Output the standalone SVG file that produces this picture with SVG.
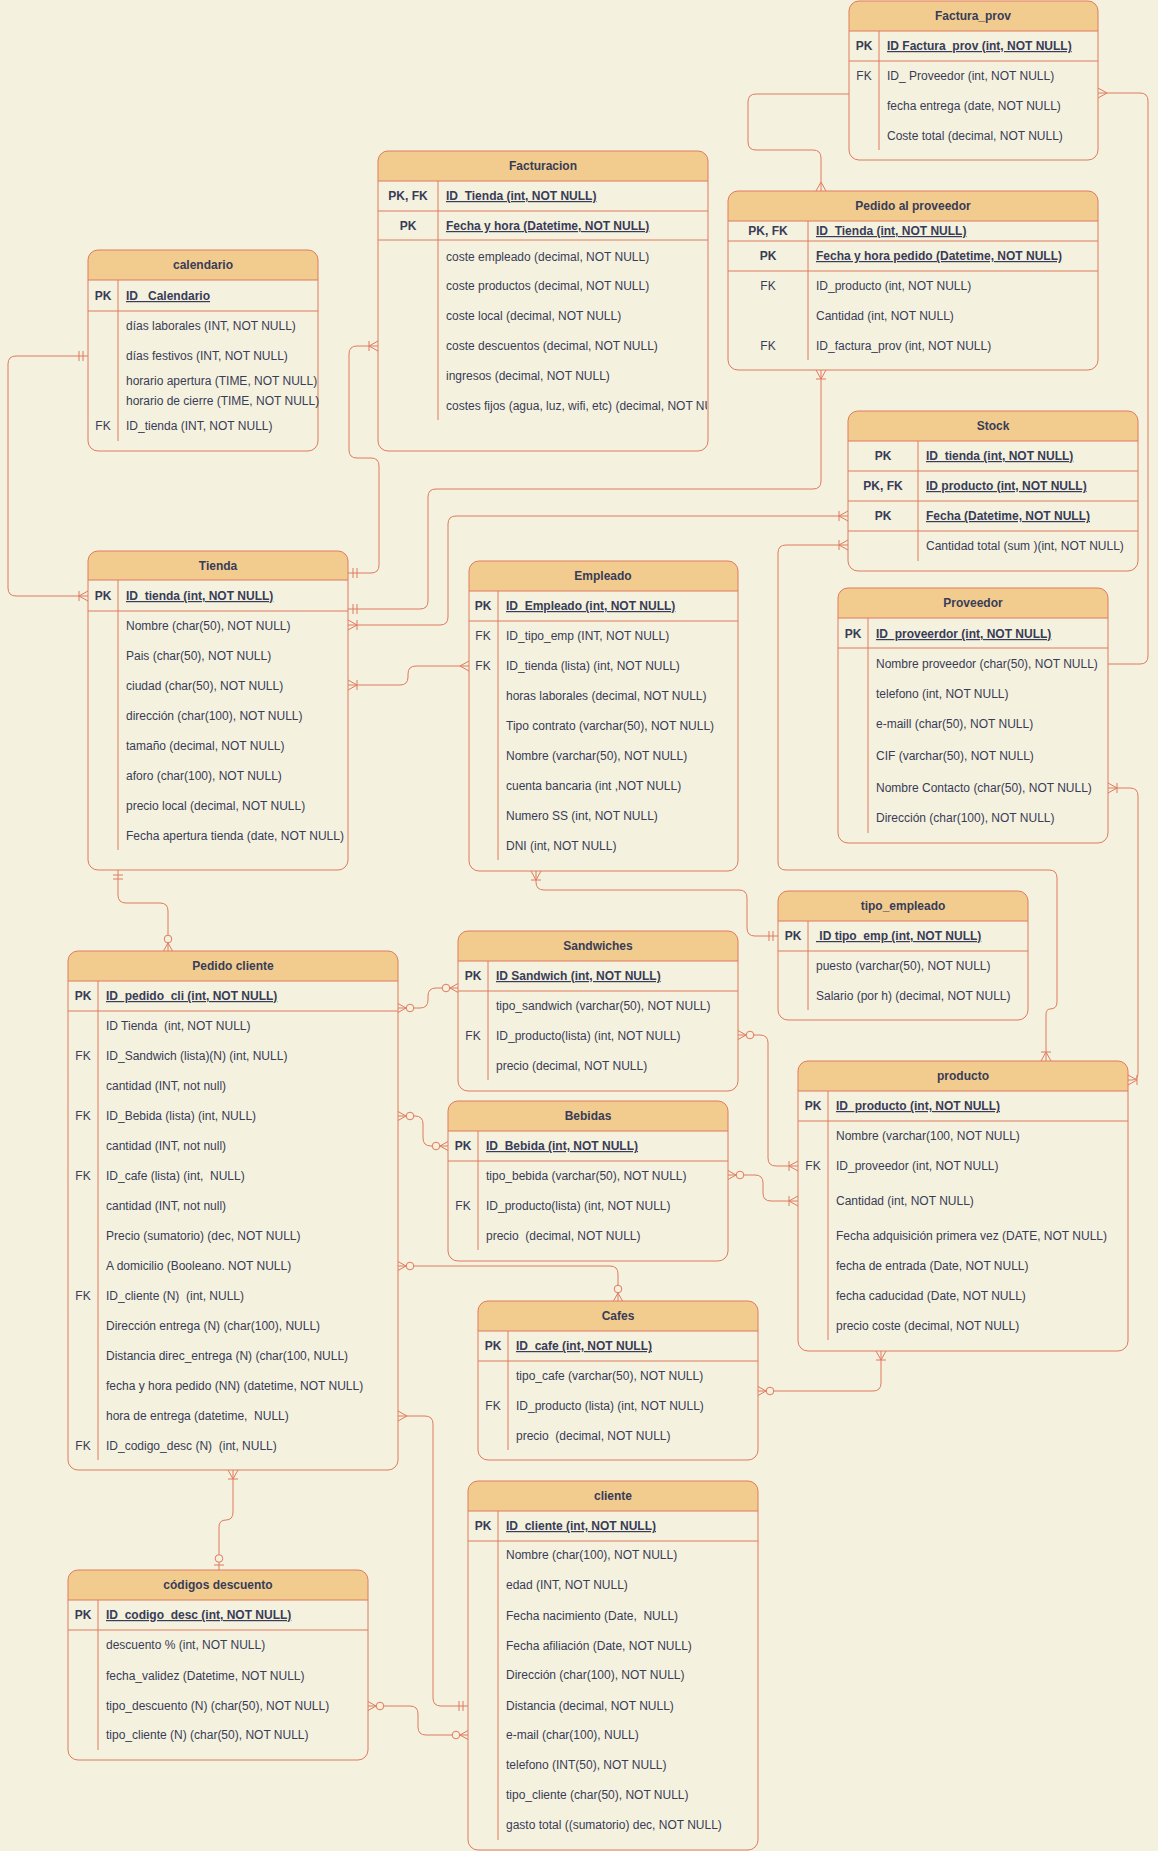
<svg xmlns="http://www.w3.org/2000/svg" width="1158" height="1851" viewBox="0 0 1158 1851" xml:space="preserve">
<style>
.bg{fill:#F4F1DE;stroke:none}
.fr{fill:none;stroke:#E07A5F;stroke-width:1}
.hd{fill:#F2CC8F;stroke:none}
.ln{fill:none;stroke:#E07A5F;stroke-width:1}
.cn{fill:none;stroke:#E07A5F;stroke-width:1}
.mk{fill:none;stroke:#E07A5F;stroke-width:1}
.mc{fill:#F4F1DE;stroke:#E07A5F;stroke-width:1}
text{font-family:"Liberation Sans",Arial,Helvetica,sans-serif;font-size:12px;fill:#393C56;white-space:pre}
.ti{font-weight:bold;text-anchor:middle}
.k{text-anchor:middle}
.kb{text-anchor:middle;font-weight:bold}
.pk{font-weight:bold;text-decoration:underline}
</style>
<defs>
<marker id="many" markerUnits="userSpaceOnUse" markerWidth="30" markerHeight="30" viewBox="-20 -15 30 30" refX="0" refY="0" orient="auto-start-reverse" overflow="visible"><path class="mk" d="M-9 0L0 -5M-9 0L0 5"/></marker>
<marker id="oneMany" markerUnits="userSpaceOnUse" markerWidth="30" markerHeight="30" viewBox="-20 -15 30 30" refX="0" refY="0" orient="auto-start-reverse" overflow="visible"><path class="mk" d="M-9 0L0 -5M-9 0L0 5M-9 -5V5"/></marker>
<marker id="zeroMany" markerUnits="userSpaceOnUse" markerWidth="30" markerHeight="30" viewBox="-20 -15 30 30" refX="0" refY="0" orient="auto-start-reverse" overflow="visible"><path class="mk" d="M-8 0L0 -4.5M-8 0L0 4.5"/><circle class="mc" cx="-12" cy="0" r="3.8"/></marker>
<marker id="mandOne" markerUnits="userSpaceOnUse" markerWidth="30" markerHeight="30" viewBox="-20 -15 30 30" refX="0" refY="0" orient="auto-start-reverse" overflow="visible"><path class="mk" d="M-5 -5V5M-9 -5V5"/></marker>
<marker id="zeroOne" markerUnits="userSpaceOnUse" markerWidth="30" markerHeight="30" viewBox="-20 -15 30 30" refX="0" refY="0" orient="auto-start-reverse" overflow="visible"><path class="mk" d="M-5 -5V5"/><circle class="mc" cx="-11.5" cy="0" r="3.8"/></marker>
<clipPath id="clipFact"><rect x="378" y="151" width="329" height="300"/></clipPath>
</defs>
<rect x="0" y="0" width="1158" height="1851" fill="#F4F1DE"/>

<g id="connectors">
<path class="cn" d="M849 94H756Q748 94 748 102V142Q748 150 756 150H813Q821 150 821 158V191" marker-end="url(#many)"/>
<path class="cn" d="M1108 664H1140Q1148 664 1148 656V101Q1148 93 1140 93H1098" marker-end="url(#many)"/>
<path class="cn" d="M348 609H420Q428 609 428 601V497Q428 489 436 489H813Q821 489 821 481V370" marker-start="url(#mandOne)" marker-end="url(#oneMany)"/>
<path class="cn" d="M348 573H371Q379 573 379 565V466Q379 458 371 458H357Q349 458 349 450V354Q349 346 357 346H378" marker-start="url(#mandOne)" marker-end="url(#oneMany)"/>
<path class="cn" d="M348 625H440Q448 625 448 617V524Q448 516 456 516H848" marker-start="url(#oneMany)" marker-end="url(#oneMany)"/>
<path class="cn" d="M348 685H400Q408 685 408 677V674Q408 666 416 666H469" marker-start="url(#oneMany)" marker-end="url(#many)"/>
<path class="cn" d="M88 356H16Q8 356 8 364V588Q8 596 16 596H88" marker-start="url(#mandOne)" marker-end="url(#oneMany)"/>
<path class="cn" d="M118 870V895Q118 903 126 903H160Q168 903 168 911V951" marker-start="url(#mandOne)" marker-end="url(#zeroMany)"/>
<path class="cn" d="M536 871V882Q536 890 544 890H739Q747 890 747 898V928Q747 936 755 936H778" marker-start="url(#oneMany)" marker-end="url(#mandOne)"/>
<path class="cn" d="M848 545H786Q778 545 778 553V862Q778 870 786 870H1049Q1057 870 1057 878V1002Q1057 1009 1050 1009Q1046 1009 1046 1015V1061" marker-start="url(#oneMany)" marker-end="url(#oneMany)"/>
<path class="cn" d="M1108 788H1130Q1138 788 1138 796V1073Q1138 1080 1132 1080H1128" marker-start="url(#oneMany)" marker-end="url(#oneMany)"/>
<path class="cn" d="M398 1008H420Q428 1008 428 1000V996Q428 988 436 988H458" marker-start="url(#zeroMany)" marker-end="url(#zeroMany)"/>
<path class="cn" d="M398 1116H415Q423 1116 423 1124V1138Q423 1146 431 1146H448" marker-start="url(#zeroMany)" marker-end="url(#zeroMany)"/>
<path class="cn" d="M398 1266H610Q618 1266 618 1274V1301" marker-start="url(#zeroMany)" marker-end="url(#zeroMany)"/>
<path class="cn" d="M738 1035H760Q768 1035 768 1043V1158Q768 1166 776 1166H798" marker-start="url(#zeroMany)" marker-end="url(#oneMany)"/>
<path class="cn" d="M728 1175H755Q763 1175 763 1183V1193Q763 1201 771 1201H798" marker-start="url(#zeroMany)" marker-end="url(#oneMany)"/>
<path class="cn" d="M758 1391H873Q881 1391 881 1383V1351" marker-start="url(#zeroMany)" marker-end="url(#oneMany)"/>
<path class="cn" d="M233 1470V1512Q233 1520 226 1520Q219 1520 219 1527V1570" marker-start="url(#oneMany)" marker-end="url(#zeroOne)"/>
<path class="cn" d="M398 1416H425Q433 1416 433 1424V1698Q433 1706 441 1706H468" marker-start="url(#many)" marker-end="url(#mandOne)"/>
<path class="cn" d="M368 1706H410Q418 1706 418 1714V1727Q418 1735 426 1735H468" marker-start="url(#zeroMany)" marker-end="url(#zeroMany)"/>
</g>

<g id="factura_prov">
<rect class="bg" x="849" y="1" width="249" height="159" rx="10"/>
<path class="hd" d="M849 31V11A10 10 0 0 1 859 1H1088A10 10 0 0 1 1098 11V31Z"/>
<rect class="fr" x="849" y="1" width="249" height="159" rx="10"/>
<path class="ln" d="M849 31H1098M849 61H1098M879 31V150"/>
<text class="ti" x="973" y="20">Factura_prov</text>
<text class="kb" x="864" y="50">PK</text><text class="pk" x="887" y="50">ID Factura_prov (int, NOT NULL)</text>
<text class="k" x="864" y="80">FK</text><text x="887" y="80">ID_ Proveedor (int, NOT NULL)</text>
<text x="887" y="110">fecha entrega (date, NOT NULL)</text>
<text x="887" y="140">Coste total (decimal, NOT NULL)</text>
</g>

<g id="pedido_proveedor">
<rect class="bg" x="728" y="191" width="370" height="179" rx="10"/>
<path class="hd" d="M728 221V201A10 10 0 0 1 738 191H1088A10 10 0 0 1 1098 201V221Z"/>
<rect class="fr" x="728" y="191" width="370" height="179" rx="10"/>
<path class="ln" d="M728 221H1098M728 241H1098M728 271H1098M808 221V360"/>
<text class="ti" x="913" y="210">Pedido al proveedor</text>
<text class="kb" x="768" y="235">PK, FK</text><text class="pk" x="816" y="235">ID_Tienda (int, NOT NULL)</text>
<text class="kb" x="768" y="260">PK</text><text class="pk" x="816" y="260">Fecha y hora pedido (Datetime, NOT NULL)</text>
<text class="k" x="768" y="290">FK</text><text x="816" y="290">ID_producto (int, NOT NULL)</text>
<text x="816" y="320">Cantidad (int, NOT NULL)</text>
<text class="k" x="768" y="350">FK</text><text x="816" y="350">ID_factura_prov (int, NOT NULL)</text>
</g>

<g id="facturacion">
<rect class="bg" x="378" y="151" width="330" height="300" rx="10"/>
<path class="hd" d="M378 181V161A10 10 0 0 1 388 151H698A10 10 0 0 1 708 161V181Z"/>
<rect class="fr" x="378" y="151" width="330" height="300" rx="10"/>
<path class="ln" d="M378 181H708M378 211H708M378 240H708M438 181V420"/>
<text class="ti" x="543" y="170">Facturacion</text>
<text class="kb" x="408" y="200">PK, FK</text><text class="pk" x="446" y="200">ID_Tienda (int, NOT NULL)</text>
<text class="kb" x="408" y="230">PK</text><text class="pk" x="446" y="230">Fecha y hora (Datetime, NOT NULL)</text>
<text x="446" y="261">coste empleado (decimal, NOT NULL)</text>
<text x="446" y="290">coste productos (decimal, NOT NULL)</text>
<text x="446" y="320">coste local (decimal, NOT NULL)</text>
<text x="446" y="350">coste descuentos (decimal, NOT NULL)</text>
<text x="446" y="380">ingresos (decimal, NOT NULL)</text>
<text x="446" y="410" clip-path="url(#clipFact)">costes fijos (agua, luz, wifi, etc) (decimal, NOT NULL)</text>
</g>

<g id="calendario">
<rect class="bg" x="88" y="250" width="230" height="201" rx="10"/>
<path class="hd" d="M88 280V260A10 10 0 0 1 98 250H308A10 10 0 0 1 318 260V280Z"/>
<rect class="fr" x="88" y="250" width="230" height="201" rx="10"/>
<path class="ln" d="M88 280H318M88 311H318M118 280V441"/>
<text class="ti" x="203" y="269">calendario</text>
<text class="kb" x="103" y="300">PK</text><text class="pk" x="126" y="300">ID_ Calendario</text>
<text x="126" y="330">días laborales (INT, NOT NULL)</text>
<text x="126" y="360">días festivos (INT, NOT NULL)</text>
<text x="126" y="385">horario apertura (TIME, NOT NULL)</text>
<text x="126" y="405">horario de cierre (TIME, NOT NULL)</text>
<text class="k" x="103" y="430">FK</text><text x="126" y="430">ID_tienda (INT, NOT NULL)</text>
</g>

<g id="stock">
<rect class="bg" x="848" y="411" width="290" height="160" rx="10"/>
<path class="hd" d="M848 441V421A10 10 0 0 1 858 411H1128A10 10 0 0 1 1138 421V441Z"/>
<rect class="fr" x="848" y="411" width="290" height="160" rx="10"/>
<path class="ln" d="M848 441H1138M848 471H1138M848 501H1138M848 531H1138M918 441V561"/>
<text class="ti" x="993" y="430">Stock</text>
<text class="kb" x="883" y="460">PK</text><text class="pk" x="926" y="460">ID_tienda (int, NOT NULL)</text>
<text class="kb" x="883" y="490">PK, FK</text><text class="pk" x="926" y="490">ID producto (int, NOT NULL)</text>
<text class="kb" x="883" y="520">PK</text><text class="pk" x="926" y="520">Fecha (Datetime, NOT NULL)</text>
<text x="926" y="550">Cantidad total (sum )(int, NOT NULL)</text>
</g>

<g id="proveedor">
<rect class="bg" x="838" y="588" width="270" height="255" rx="10"/>
<path class="hd" d="M838 618V598A10 10 0 0 1 848 588H1098A10 10 0 0 1 1108 598V618Z"/>
<rect class="fr" x="838" y="588" width="270" height="255" rx="10"/>
<path class="ln" d="M838 618H1108M838 648H1108M868 618V833"/>
<text class="ti" x="973" y="607">Proveedor</text>
<text class="kb" x="853" y="638">PK</text><text class="pk" x="876" y="638">ID_proveerdor (int, NOT NULL)</text>
<text x="876" y="668">Nombre proveedor (char(50), NOT NULL)</text>
<text x="876" y="698">telefono (int, NOT NULL)</text>
<text x="876" y="728">e-maill (char(50), NOT NULL)</text>
<text x="876" y="760">CIF (varchar(50), NOT NULL)</text>
<text x="876" y="792">Nombre Contacto (char(50), NOT NULL)</text>
<text x="876" y="822">Dirección (char(100), NOT NULL)</text>
</g>

<g id="tienda">
<rect class="bg" x="88" y="551" width="260" height="319" rx="10"/>
<path class="hd" d="M88 580V561A10 10 0 0 1 98 551H338A10 10 0 0 1 348 561V580Z"/>
<rect class="fr" x="88" y="551" width="260" height="319" rx="10"/>
<path class="ln" d="M88 580H348M88 611H348M118 580V850"/>
<text class="ti" x="218" y="570">Tienda</text>
<text class="kb" x="103" y="600">PK</text><text class="pk" x="126" y="600">ID_tienda (int, NOT NULL)</text>
<text x="126" y="630">Nombre (char(50), NOT NULL)</text>
<text x="126" y="660">Pais (char(50), NOT NULL)</text>
<text x="126" y="690">ciudad (char(50), NOT NULL)</text>
<text x="126" y="720">dirección (char(100), NOT NULL)</text>
<text x="126" y="750">tamaño (decimal, NOT NULL)</text>
<text x="126" y="780">aforo (char(100), NOT NULL)</text>
<text x="126" y="810">precio local (decimal, NOT NULL)</text>
<text x="126" y="840">Fecha apertura tienda (date, NOT NULL)</text>
</g>

<g id="empleado">
<rect class="bg" x="469" y="561" width="269" height="310" rx="10"/>
<path class="hd" d="M469 591V571A10 10 0 0 1 479 561H728A10 10 0 0 1 738 571V591Z"/>
<rect class="fr" x="469" y="561" width="269" height="310" rx="10"/>
<path class="ln" d="M469 591H738M469 621H738M498 591V860"/>
<text class="ti" x="603" y="580">Empleado</text>
<text class="kb" x="483" y="610">PK</text><text class="pk" x="506" y="610">ID_Empleado (int, NOT NULL)</text>
<text class="k" x="483" y="640">FK</text><text x="506" y="640">ID_tipo_emp (INT, NOT NULL)</text>
<text class="k" x="483" y="670">FK</text><text x="506" y="670">ID_tienda (lista) (int, NOT NULL)</text>
<text x="506" y="700">horas laborales (decimal, NOT NULL)</text>
<text x="506" y="730">Tipo contrato (varchar(50), NOT NULL)</text>
<text x="506" y="760">Nombre (varchar(50), NOT NULL)</text>
<text x="506" y="790">cuenta bancaria (int ,NOT NULL)</text>
<text x="506" y="820">Numero SS (int, NOT NULL)</text>
<text x="506" y="850">DNI (int, NOT NULL)</text>
</g>

<g id="tipo_empleado">
<rect class="bg" x="778" y="891" width="250" height="129" rx="10"/>
<path class="hd" d="M778 921V901A10 10 0 0 1 788 891H1018A10 10 0 0 1 1028 901V921Z"/>
<rect class="fr" x="778" y="891" width="250" height="129" rx="10"/>
<path class="ln" d="M778 921H1028M778 951H1028M808 921V1010"/>
<text class="ti" x="903" y="910">tipo_empleado</text>
<text class="kb" x="793" y="940">PK</text><text class="pk" x="816" y="940"> ID tipo_emp (int, NOT NULL)</text>
<text x="816" y="970">puesto (varchar(50), NOT NULL)</text>
<text x="816" y="1000">Salario (por h) (decimal, NOT NULL)</text>
</g>

<g id="pedido_cliente">
<rect class="bg" x="68" y="951" width="330" height="519" rx="10"/>
<path class="hd" d="M68 981V961A10 10 0 0 1 78 951H388A10 10 0 0 1 398 961V981Z"/>
<rect class="fr" x="68" y="951" width="330" height="519" rx="10"/>
<path class="ln" d="M68 981H398M68 1011H398M98 981V1460"/>
<text class="ti" x="233" y="970">Pedido cliente</text>
<text class="kb" x="83" y="1000">PK</text><text class="pk" x="106" y="1000">ID_pedido_cli (int, NOT NULL)</text>
<text x="106" y="1030">ID Tienda  (int, NOT NULL)</text>
<text class="k" x="83" y="1060">FK</text><text x="106" y="1060">ID_Sandwich (lista)(N) (int, NULL)</text>
<text x="106" y="1090">cantidad (INT, not null)</text>
<text class="k" x="83" y="1120">FK</text><text x="106" y="1120">ID_Bebida (lista) (int, NULL)</text>
<text x="106" y="1150">cantidad (INT, not null)</text>
<text class="k" x="83" y="1180">FK</text><text x="106" y="1180">ID_cafe (lista) (int,  NULL)</text>
<text x="106" y="1210">cantidad (INT, not null)</text>
<text x="106" y="1240">Precio (sumatorio) (dec, NOT NULL)</text>
<text x="106" y="1270">A domicilio (Booleano. NOT NULL)</text>
<text class="k" x="83" y="1300">FK</text><text x="106" y="1300">ID_cliente (N)  (int, NULL)</text>
<text x="106" y="1330">Dirección entrega (N) (char(100), NULL)</text>
<text x="106" y="1360">Distancia direc_entrega (N) (char(100, NULL)</text>
<text x="106" y="1390">fecha y hora pedido (NN) (datetime, NOT NULL)</text>
<text x="106" y="1420">hora de entrega (datetime,  NULL)</text>
<text class="k" x="83" y="1450">FK</text><text x="106" y="1450">ID_codigo_desc (N)  (int, NULL)</text>
</g>

<g id="sandwiches">
<rect class="bg" x="458" y="931" width="280" height="160" rx="10"/>
<path class="hd" d="M458 961V941A10 10 0 0 1 468 931H728A10 10 0 0 1 738 941V961Z"/>
<rect class="fr" x="458" y="931" width="280" height="160" rx="10"/>
<path class="ln" d="M458 961H738M458 991H738M488 961V1080"/>
<text class="ti" x="598" y="950">Sandwiches</text>
<text class="kb" x="473" y="980">PK</text><text class="pk" x="496" y="980">ID Sandwich (int, NOT NULL)</text>
<text x="496" y="1010">tipo_sandwich (varchar(50), NOT NULL)</text>
<text class="k" x="473" y="1040">FK</text><text x="496" y="1040">ID_producto(lista) (int, NOT NULL)</text>
<text x="496" y="1070">precio (decimal, NOT NULL)</text>
</g>

<g id="bebidas">
<rect class="bg" x="448" y="1101" width="280" height="160" rx="10"/>
<path class="hd" d="M448 1131V1111A10 10 0 0 1 458 1101H718A10 10 0 0 1 728 1111V1131Z"/>
<rect class="fr" x="448" y="1101" width="280" height="160" rx="10"/>
<path class="ln" d="M448 1131H728M448 1161H728M478 1131V1250"/>
<text class="ti" x="588" y="1120">Bebidas</text>
<text class="kb" x="463" y="1150">PK</text><text class="pk" x="486" y="1150">ID_Bebida (int, NOT NULL)</text>
<text x="486" y="1180">tipo_bebida (varchar(50), NOT NULL)</text>
<text class="k" x="463" y="1210">FK</text><text x="486" y="1210">ID_producto(lista) (int, NOT NULL)</text>
<text x="486" y="1240">precio  (decimal, NOT NULL)</text>
</g>

<g id="producto">
<rect class="bg" x="798" y="1061" width="330" height="290" rx="10"/>
<path class="hd" d="M798 1091V1071A10 10 0 0 1 808 1061H1118A10 10 0 0 1 1128 1071V1091Z"/>
<rect class="fr" x="798" y="1061" width="330" height="290" rx="10"/>
<path class="ln" d="M798 1091H1128M798 1121H1128M828 1091V1340"/>
<text class="ti" x="963" y="1080">producto</text>
<text class="kb" x="813" y="1110">PK</text><text class="pk" x="836" y="1110">ID_producto (int, NOT NULL)</text>
<text x="836" y="1140">Nombre (varchar(100, NOT NULL)</text>
<text class="k" x="813" y="1170">FK</text><text x="836" y="1170">ID_proveedor (int, NOT NULL)</text>
<text x="836" y="1205">Cantidad (int, NOT NULL)</text>
<text x="836" y="1240">Fecha adquisición primera vez (DATE, NOT NULL)</text>
<text x="836" y="1270">fecha de entrada (Date, NOT NULL)</text>
<text x="836" y="1300">fecha caducidad (Date, NOT NULL)</text>
<text x="836" y="1330">precio coste (decimal, NOT NULL)</text>
</g>

<g id="cafes">
<rect class="bg" x="478" y="1301" width="280" height="159" rx="10"/>
<path class="hd" d="M478 1331V1311A10 10 0 0 1 488 1301H748A10 10 0 0 1 758 1311V1331Z"/>
<rect class="fr" x="478" y="1301" width="280" height="159" rx="10"/>
<path class="ln" d="M478 1331H758M478 1361H758M508 1331V1450"/>
<text class="ti" x="618" y="1320">Cafes</text>
<text class="kb" x="493" y="1350">PK</text><text class="pk" x="516" y="1350">ID_cafe (int, NOT NULL)</text>
<text x="516" y="1380">tipo_cafe (varchar(50), NOT NULL)</text>
<text class="k" x="493" y="1410">FK</text><text x="516" y="1410">ID_producto (lista) (int, NOT NULL)</text>
<text x="516" y="1440">precio  (decimal, NOT NULL)</text>
</g>

<g id="cliente">
<rect class="bg" x="468" y="1481" width="290" height="369" rx="10"/>
<path class="hd" d="M468 1511V1491A10 10 0 0 1 478 1481H748A10 10 0 0 1 758 1491V1511Z"/>
<rect class="fr" x="468" y="1481" width="290" height="369" rx="10"/>
<path class="ln" d="M468 1511H758M468 1541H758M498 1511V1840"/>
<text class="ti" x="613" y="1500">cliente</text>
<text class="kb" x="483" y="1530">PK</text><text class="pk" x="506" y="1530">ID_cliente (int, NOT NULL)</text>
<text x="506" y="1559">Nombre (char(100), NOT NULL)</text>
<text x="506" y="1589">edad (INT, NOT NULL)</text>
<text x="506" y="1620">Fecha nacimiento (Date,  NULL)</text>
<text x="506" y="1650">Fecha afiliación (Date, NOT NULL)</text>
<text x="506" y="1679">Dirección (char(100), NOT NULL)</text>
<text x="506" y="1710">Distancia (decimal, NOT NULL)</text>
<text x="506" y="1739">e-mail (char(100), NULL)</text>
<text x="506" y="1769">telefono (INT(50), NOT NULL)</text>
<text x="506" y="1799">tipo_cliente (char(50), NOT NULL)</text>
<text x="506" y="1829">gasto total ((sumatorio) dec, NOT NULL)</text>
</g>

<g id="codigos_descuento">
<rect class="bg" x="68" y="1570" width="300" height="190" rx="10"/>
<path class="hd" d="M68 1600V1580A10 10 0 0 1 78 1570H358A10 10 0 0 1 368 1580V1600Z"/>
<rect class="fr" x="68" y="1570" width="300" height="190" rx="10"/>
<path class="ln" d="M68 1600H368M68 1630H368M98 1600V1750"/>
<text class="ti" x="218" y="1589">códigos descuento</text>
<text class="kb" x="83" y="1619">PK</text><text class="pk" x="106" y="1619">ID_codigo_desc (int, NOT NULL)</text>
<text x="106" y="1649">descuento % (int, NOT NULL)</text>
<text x="106" y="1680">fecha_validez (Datetime, NOT NULL)</text>
<text x="106" y="1710">tipo_descuento (N) (char(50), NOT NULL)</text>
<text x="106" y="1739">tipo_cliente (N) (char(50), NOT NULL)</text>
</g>
</svg>
